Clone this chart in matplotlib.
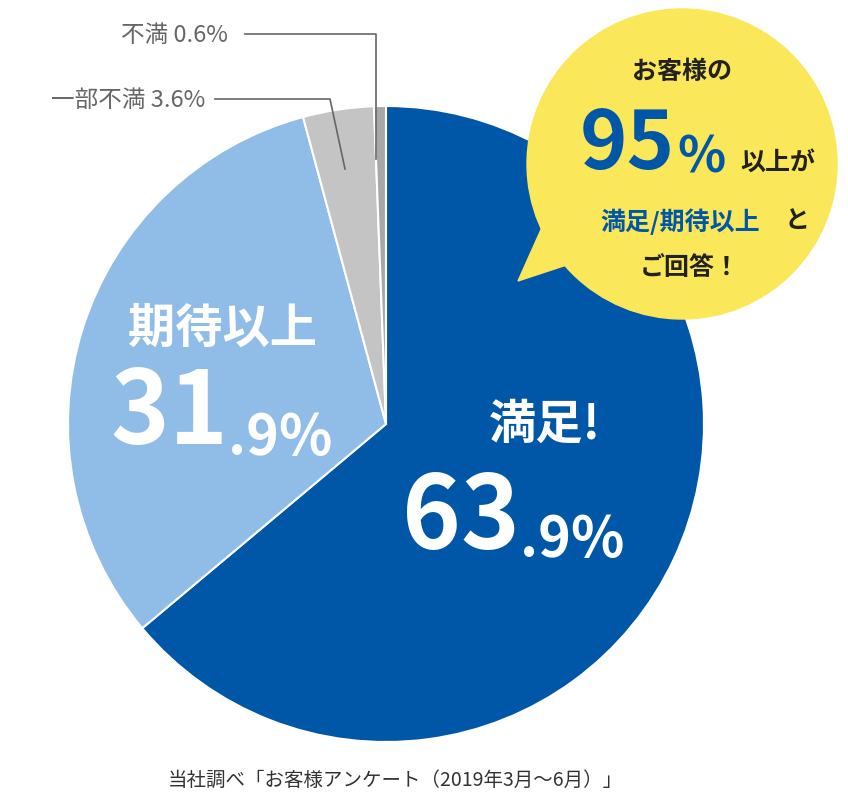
import matplotlib
matplotlib.use("Agg")
import matplotlib.pyplot as plt
from matplotlib.patches import Circle, Polygon

plt.rcParams['font.family'] = ['Noto Sans CJK JP', 'DejaVu Sans']

labels = ["満足!", "期待以上", "一部不満", "不満"]
values = [63.9, 31.9, 3.6, 0.6]
colors = ["#0057a8", "#8fbde8", "#c4c4c4", "#a8a8a8"]

W, H = 848, 812
fig = plt.figure(figsize=(W/100, H/100), dpi=100)
ax = fig.add_axes([0, 0, 1, 1])
ax.set_xlim(0, W); ax.set_ylim(0, H); ax.set_aspect('equal'); ax.axis('off')
Y = lambda py: H - py

cx, cy, r = 386, Y(425), 318
ax.pie(values, colors=colors, startangle=90, counterclock=False, center=(cx, cy), radius=r,
       wedgeprops=dict(edgecolor='white', linewidth=1.5), frame=True)
ax.set_xlim(0, W); ax.set_ylim(0, H); ax.axis('off')

# labels in slices
ax.text(545, Y(425), labels[0], fontsize=34, fontweight='bold', color='white', ha='center', va='center')
ax.text(520, Y(520), f"{int(values[0])}", fontsize=72, fontweight='bold', color='white', ha='right', va='center')
ax.text(520, Y(540), f".{str(values[0]).split('.')[1]}%", fontsize=40, fontweight='bold', color='white', ha='left', va='center')
ax.text(222, Y(330), labels[1], fontsize=34, fontweight='bold', color='white', ha='center', va='center')
ax.text(228, Y(415), f"{int(values[1])}", fontsize=72, fontweight='bold', color='white', ha='right', va='center')
ax.text(228, Y(438), f".{str(values[1]).split('.')[1]}%", fontsize=40, fontweight='bold', color='white', ha='left', va='center')

# leader labels
gc = '#666666'
ax.text(228, Y(35), f"{labels[3]} {values[3]}%", fontsize=17, color=gc, ha='right', va='center')
ax.plot([245, 376, 376], [Y(35), Y(35), Y(160)], color=gc, lw=1.2)
ax.text(205, Y(100), f"{labels[2]} {values[2]}%", fontsize=17, color=gc, ha='right', va='center')
ax.plot([215, 330, 345], [Y(100), Y(100), Y(170)], color=gc, lw=1.2)

# speech bubble
yc = '#fbe75a'
ax.add_patch(Polygon([(548, Y(215)), (518, Y(282)), (600, Y(255))], closed=True, color=yc, zorder=5))
ax.add_patch(Circle((682, Y(165)), 155, color=yc, zorder=5))
ax.text(682, Y(72), "お客様の", fontsize=18, fontweight='bold', color='#222222', ha='center', va='center', zorder=6)
ax.text(675, Y(145), "95", fontsize=58, fontweight='bold', color='#0057a8', ha='right', va='center', zorder=6)
ax.text(677, Y(158), "%", fontsize=36, fontweight='bold', color='#0057a8', ha='left', va='center', zorder=6)
ax.text(740, Y(163), "以上が", fontsize=18, fontweight='bold', color='#222222', ha='left', va='center', zorder=6)
ax.text(680, Y(222), "満足/期待以上", fontsize=18, fontweight='bold', color='#0057a8', ha='center', va='center', zorder=6)
ax.text(785, Y(222), "と", fontsize=18, fontweight='bold', color='#222222', ha='left', va='center', zorder=6)
ax.text(690, Y(268), "ご回答！", fontsize=18, fontweight='bold', color='#222222', ha='center', va='center', zorder=6)

ax.text(395, Y(780), "当社調べ「お客様アンケート（2019年3月～6月）」", fontsize=14, color='#333333', ha='center', va='center')

fig.savefig("out.png", dpi=100)
